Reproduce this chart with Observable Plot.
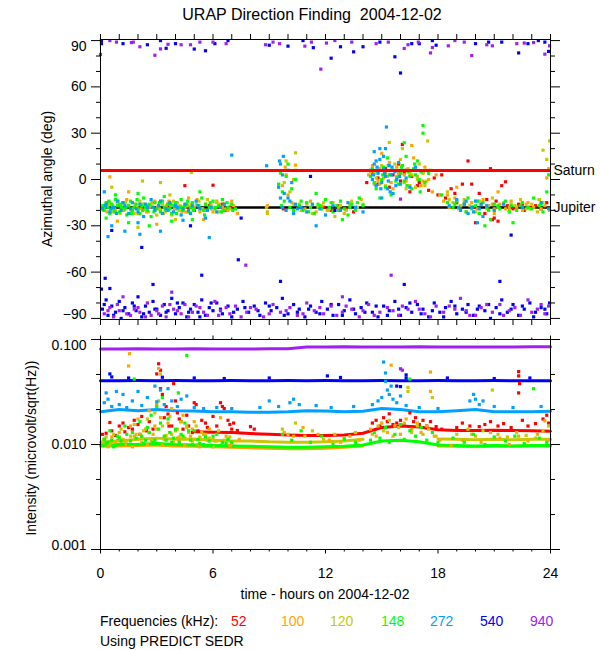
<!DOCTYPE html>
<html><head><meta charset="utf-8">
<script src="https://cdn.jsdelivr.net/npm/d3@7"></script>
<script src="https://cdn.jsdelivr.net/npm/@observablehq/plot@0.6"></script>
<style>
body{margin:0;background:#fff;font-family:"Liberation Sans",Arial,sans-serif;}
#wrap{position:relative;width:600px;height:650px;background:#fff;}
.t{position:absolute;white-space:nowrap;color:#000;font-size:14px;line-height:1;}
</style></head><body><div id="wrap"></div>
<script>
// ---------- categories ----------
const freqs = ["52","100","120","148","272","540","940"];
const freqColors = ["#ff0000","#ffa500","#c8c800","#00ff00","#00a0ff","#0000ff","#a020f0"];
const planetNames = ["Saturn","Jupiter"];
const planetAngles = [5.8,-18.1];
const planetColors = ["#ff0000","#000000"];

// ---------- tick labels ----------
const xMajor = [0,6,12,18,24];
const xMinor = [1,2,3,4,5,7,8,9,10,11,13,14,15,16,17,19,20,21,22,23];
const azMajor = [-90,-60,-30,0,30,60,90];
const azMinor = [-80,-70,-50,-40,-20,-10,10,20,40,50,70,80];
const inMajor = [0.001,0.01,0.1];
const inMinorExp = [-1.333,-1.667,-2.333,-2.667];

// ---------- azimuth [hour, deg] ----------
const az52 = [[0.4,-15],[1.0,-17],[2.3,-19],[3.6,-16],[4.5,-4],[4.6,-18],[5.0,-20],[5.8,-17],[6.0,-3.7],[6.3,-18],[6.5,-16],[6.7,-20],[6.9,-18],[9.75,-19],[11.9,-18],[12.3,-20],[12.7,-17],[13.1,-19],[13.5,-21],[14.2,-2],[14.5,4],[14.8,1],[14.8,-3],[15.2,7],[15.6,3],[15.9,10],[16.0,-1],[16.1,22.7],[16.3,6],[16.5,-8],[16.6,2],[16.9,-4],[17.2,5],[17.5,-7],[17.8,1],[18.0,-10],[18.2,3],[18.4,-12],[18.7,-6],[19.0,-15],[19.3,-3],[19.6,12],[19.9,-18],[20.0,-28],[20.2,-9],[20.5,-22],[20.8,7],[20.9,-26],[21.0,-25],[21.1,-14],[21.2,-27],[21.4,-4],[21.6,-1.5],[21.7,-17],[22.0,-19],[22.3,-16],[22.6,-20],[22.9,-18],[23.2,-17],[23.5,-19],[23.8,-15],[15.4,-5],[16.2,4],[17.0,-2],[18.9,-9],[19.8,-3],[20.6,-13],[22.5,-16]];
const az100 = [[0.2,-18],[0.5,-15],[0.5,1.7],[0.8,-20],[0.9,-27],[1.1,-17],[1.4,-13],[1.5,-8],[1.7,-19],[2.0,-22],[2.3,-16],[2.6,-18],[2.9,-14],[3.0,-29],[3.2,-20],[3.5,-17],[3.8,-23],[4.1,-15],[4.4,-19],[4.7,-12],[5.0,-18],[5.3,-21],[5.5,-26],[5.6,-16],[5.9,-19],[6.2,-14],[6.5,-18],[6.8,-20],[7.1,-17],[7.3,-22],[8.9,-17],[8.9,-21],[9.7,-4],[9.85,8],[9.9,3],[10.0,-10],[10.2,-15],[10.3,0],[10.4,9.3],[10.6,-16],[10.9,-19],[11.2,-14],[11.5,-21],[11.8,-17],[12.1,-20],[12.4,-15],[12.7,-18],[13.0,-22],[13.3,-16],[13.6,-19],[13.9,-13],[14.3,3],[14.6,-3],[14.9,7],[15.0,17],[15.1,1],[15.4,11],[15.6,-6],[15.9,4],[16.1,9],[16.3,-1],[16.5,5],[16.6,22],[16.7,14],[16.9,2],[17.1,-4],[17.3,8],[17.5,0],[17.7,-8],[17.9,3],[18.1,-10],[18.3,-14],[18.6,-18],[18.9,-12],[19.0,-5],[19.2,-17],[19.5,-21],[19.8,-15],[20.1,-19],[20.4,-13],[20.7,-17],[21.0,-22],[21.2,-8],[21.3,-16],[21.6,-19],[21.9,-14],[22.2,-18],[22.5,-20],[22.8,-15],[23.1,-18],[23.4,-13],[23.7,-17],[23.8,1],[23.9,7],[23.95,-20],
[0.35,-21],[0.65,-17],[0.95,-14],[1.25,-20],[1.85,-16],[2.15,-19],[2.45,-21],[2.75,-15],[3.05,-18],[3.35,-22],[3.65,-14],[3.95,-19],[4.25,-17],[4.55,-21],[4.85,-16],[5.15,-13],[5.45,-19],[6.0,-21],[6.35,-16],[6.65,-19],[7.0,-14],[14.5,9],[14.8,-1],[15.2,4],[15.5,-2],[15.8,8],[16.2,3],[16.5,-4],[16.8,6],[17.2,-1],[18.5,-10],[19.4,-15],[20.2,-22],[20.9,-16],[21.8,-18],[22.7,-16],[23.5,-19]];
const az120 = [[0.3,-17],[0.6,-21],[0.6,-5],[0.9,-15],[1.2,-19],[1.5,-17],[1.8,-22],[2.0,-31],[2.1,-14],[2.24,-1],[2.4,-19],[2.7,-17],[3.0,-23],[3.2,-2],[3.3,-16],[3.6,-19],[3.7,-10],[3.9,-14],[4.0,-26],[4.2,-20],[4.5,-18],[4.8,-22],[4.85,4.6],[5.1,-16],[5.4,-19],[5.7,-13],[6.0,-18],[6.3,-21],[6.6,-16],[6.9,-19],[8.85,-18],[8.9,-22],[9.6,4],[9.8,-2],[9.9,12],[10.1,-8],[10.3,-16],[10.4,6],[10.4,17.3],[10.7,-20],[11.0,-16],[11.3,-22],[11.6,-18],[11.9,-15],[12.2,-19],[12.5,-24],[12.8,-17],[13.1,-20],[13.4,-14],[13.7,-18],[14.0,-16],[14.4,5],[14.7,1],[15.0,9],[15.2,-4],[15.4,24],[15.5,6],[15.8,2],[16.0,13],[16.1,20],[16.2,-2],[16.4,7],[16.6,3],[16.8,-5],[17.0,10],[17.2,4],[17.4,-1],[17.45,25],[17.6,6],[18.5,-8],[18.8,-15],[19.1,-19],[19.4,-13],[19.7,-17],[20.0,-21],[20.3,-16],[20.6,-19],[20.9,-12],[21.2,-18],[21.5,-15],[21.8,-20],[22.1,-17],[22.4,-13],[22.7,-19],[23.0,-16],[23.3,-21],[23.6,19],[23.6,-15],[23.8,13],[23.95,25],
[0.15,-20],[0.45,-16],[0.75,-19],[1.05,-22],[1.35,-15],[1.65,-20],[1.95,-18],[2.25,-16],[2.55,-21],[2.85,-15],[3.15,-19],[3.45,-21],[3.75,-17],[4.05,-16],[4.35,-21],[4.65,-17],[4.95,-19],[5.25,-14],[5.55,-20],[5.9,-17],[6.2,-15],[6.5,-20],[14.6,4],[14.9,-3],[15.3,2],[15.7,10],[16.3,-6],[16.5,3],[16.9,0],[17.3,-4],[18.6,-13],[19.2,-17],[20.2,-14],[21.0,-19],[21.9,-16],[22.9,-19],[23.4,-13]];
const az148 = [[0.1,-17],[0.2,-20],[0.3,-15],[0.3,-25],[0.4,-18],[0.5,-22],[0.6,-16],[0.7,-19],[0.8,-13],[0.8,-10],[0.9,-17],[1.0,-21],[1.1,-18],[1.2,-15],[1.3,-19],[1.4,-23],[1.5,-17],[1.5,-28],[1.6,-14],[1.7,-20],[1.8,-18],[1.9,-16],[2.0,-19],[2.0,-9],[2.1,-22],[2.2,-17],[2.3,-12],[2.4,-18],[2.5,-20],[2.6,-16],[2.6,-30],[2.7,-24],[2.8,-18],[2.9,-15],[3.0,-19],[3.1,-17],[3.2,-21],[3.3,-14],[3.4,-18],[3.4,-11],[3.5,-20],[3.6,-16],[3.7,-19],[3.8,-22],[3.8,-27],[3.9,-17],[4.0,-15],[4.1,-19],[4.2,-18],[4.3,-13],[4.4,-20],[4.5,-17],[4.6,-16],[4.7,-21],[4.8,-18],[4.9,-15],[4.9,-26],[5.0,-19],[5.2,-17],[5.3,-8],[5.4,-12],[5.5,-20],[5.6,-16],[5.8,-18],[6.0,-14],[6.1,-19],[6.3,-17],[6.5,-13],[6.6,-20],[6.8,-18],[7.0,-16],[7.2,-19],[9.5,-3],[9.6,5],[9.65,-17],[9.7,-8],[9.8,-14],[9.9,2],[10.0,10],[10.1,-18],[10.2,-6],[10.3,-20],[10.4,0],[10.6,-17],[10.8,-20],[11.0,-15],[11.2,-18],[11.4,-22],[11.5,-9],[11.6,-16],[11.8,-19],[12.0,-13],[12.2,-18],[12.4,-21],[12.6,-17],[12.8,-14],[12.9,-26],[13.0,-19],[13.2,-23],[13.4,-16],[13.6,-20],[13.8,-12],[14.0,-17],[14.4,2],[14.6,-2],[14.8,5],[14.9,-12],[15.0,0],[15.1,8],[15.2,-5],[15.3,14],[15.4,3],[15.5,-10],[15.6,6],[15.8,1],[15.9,-3],[16.0,4],[16.1,9],[16.2,-1],[16.2,23.8],[16.3,15],[16.4,5],[16.5,2],[16.6,-6],[16.7,7],[16.8,3],[16.9,12],[17.0,0],[17.1,5],[17.2,35],[17.2,30],[17.3,-2],[17.5,4],[18.2,-10],[18.5,-15],[18.8,-18],[19.0,-14],[19.2,-20],[19.4,-16],[19.6,-12],[19.8,-19],[20.0,-17],[20.2,-22],[20.4,-15],[20.5,-30],[20.6,-18],[20.8,-26],[21.0,-16],[21.3,-19],[21.6,-14],[21.9,-17],[22.0,-28],[22.2,-20],[22.5,-15],[22.8,-18],[23.1,-12],[23.4,-17],[23.6,-21],[23.8,-8],[23.9,3],
[0.15,-19],[0.45,-14],[0.75,-21],[1.05,-16],[1.35,-18],[1.65,-22],[1.95,-13],[2.25,-20],[2.55,-17],[2.85,-21],[3.15,-15],[3.45,-19],[3.75,-16],[4.05,-22],[4.35,-18],[4.65,-14],[4.95,-20],[5.25,-17],[5.55,-23],[5.85,-15],[6.15,-18],[6.45,-21],[6.75,-15],[7.05,-20],[10.7,-14],[11.1,-21],[11.7,-17],[12.3,-15],[12.7,-20],[13.3,-18],[13.7,-15],[14.5,7],[14.7,-6],[15.05,3],[15.35,9],[15.75,-1],[16.05,8],[16.35,-4],[16.75,10],[17.05,-8],[18.9,-16],[19.5,-21],[20.1,-14],[20.7,-20],[21.2,-17],[21.8,-21],[22.4,-17],[23.0,-19],[23.5,-16]];
const az272 = [[0.1,-19],[0.2,-8],[0.3,-16],[0.4,-37],[0.5,-21],[0.6,-30],[0.7,-18],[0.9,-14],[1.1,-20],[1.3,-17],[1.3,-33.5],[1.5,-22],[1.7,-15],[1.9,-19],[2.0,-28],[2.1,-16],[2.1,-35.5],[2.3,-24],[2.5,-18],[2.7,-13],[2.9,-20],[3.1,-17],[3.2,-33.5],[3.3,-22],[3.5,-19],[3.7,-15],[3.9,-21],[4.1,-18],[4.3,-23],[4.4,-26.4],[4.5,-16],[4.7,-20],[4.9,-17],[5.1,-14],[5.3,-19],[5.6,-25],[5.8,-37.6],[5.9,-18],[6.2,-21],[6.6,-16],[7.0,15.8],[8.86,8.9],[9.5,-5],[9.55,12],[9.6,10],[9.6,-12],[9.7,3],[9.75,15],[9.8,-9],[9.9,-20],[10.0,6],[10.1,-14],[10.2,-2],[10.3,-22],[10.4,-16],[10.5,-19],[10.7,-18],[11.0,-21],[11.3,-16],[11.5,-30],[11.7,-19],[12.0,-23],[12.4,-17],[12.8,-20],[13.2,-15],[13.6,-18],[14.0,-21],[14.4,6],[14.5,0],[14.6,10],[14.6,18],[14.7,-4],[14.8,4],[14.9,13],[14.9,20],[15.0,-2],[15.0,-12],[15.1,7],[15.2,2],[15.2,20],[15.25,34],[15.3,-6],[15.4,9],[15.5,3],[15.6,-9],[15.7,5],[15.8,0],[15.9,11],[16.0,-3],[16.1,6],[16.3,1],[16.5,-5],[16.8,8],[18.6,-17],[19.0,-13],[19.2,-20],[19.4,-16],[19.6,-22],[19.8,-18],[20.0,-14],[20.1,-28],[20.2,-19],[20.4,-24],[20.6,-17],[21.0,-20],[21.5,-16],[22.5,-18],[23.5,-15],[23.9,-19],
[0.25,-17],[0.55,-19],[0.85,-22],[1.2,-15],[1.6,-19],[2.0,-21],[2.4,-16],[2.8,-18],[3.2,-14],[3.6,-20],[4.0,-17],[4.4,-19],[4.8,-22],[5.2,-17],[5.7,-20],[6.4,-18],[9.7,-18],[10.0,-12],[14.55,3],[14.75,8],[14.95,-6],[15.15,4],[15.35,-1],[15.55,8],[15.75,-4],[15.95,2],[14.7,12],[15.1,15],[15.45,-8],[19.1,-18],[19.5,-14],[19.9,-21],[20.3,-16]];
const az540 = [[0.05,90],[0.05,88],[1.2,88],[2.5,87.3],[3.2,90],[3.5,85],[4.0,88],[5.0,84.5],[5.6,83.4],[6.1,88],[6.8,90],[9.0,87],[10.0,86.4],[10.8,90],[11.35,85.4],[12.3,78.6],[12.8,86],[13.5,82.7],[14.0,86],[14.9,89],[15.7,79.5],[16.0,69],[16.6,88],[17.0,88],[17.7,90],[17.9,87],[20.0,88],[20.7,89],[21.4,89],[22.3,82],[22.8,88],[23.35,90],[23.7,89],[23.9,83],
[0.6,-33],[2.2,-44],[4.8,-30],[7.5,-25],[11.2,2],[12.5,-20],[21.9,-36],
[0.05,-71],[0.25,-64],[0.5,-70.6],[2.8,-68],[5.4,-62],[7.35,-52],[9.6,-66],[16.2,-68],[21.3,-66],
[0.1,-84],[0.3,-78],[0.4,-88],[0.6,-82],[0.8,-86],[1.0,-79],[1.1,-90],[1.3,-83],[1.5,-87],[1.7,-80],[1.9,-85],[2.0,-76],[2.2,-89],[2.4,-82],[2.6,-86],[2.8,-79],[3.0,-84],[3.2,-88],[3.4,-81],[3.6,-85],[3.8,-77],[4.0,-87],[4.2,-83],[4.4,-80],[4.6,-89],[4.8,-84],[5.0,-81],[5.2,-86],[5.4,-78],[5.6,-88],[5.8,-83],[6.0,-85],[6.2,-80],[6.5,-87],[6.8,-82],[7.0,-89],[7.3,-84],[7.6,-79],[7.9,-86],[8.2,-82],[8.5,-88],[8.8,-80],[9.1,-85],[9.4,-83],[9.7,-77],[10.0,-87],[10.3,-81],[10.6,-84],[10.9,-89],[11.2,-82],[11.5,-86],[11.8,-79],[12.1,-84],[12.4,-88],[12.7,-81],[13.0,-85],[13.3,-78],[13.6,-87],[13.9,-83],[14.2,-80],[14.5,-86],[14.8,-89],[15.1,-82],[15.4,-85],[15.7,-79],[16.0,-88],[16.3,-83],[16.6,-86],[16.9,-81],[17.2,-84],[17.5,-89],[17.8,-80],[18.1,-86],[18.4,-83],[18.7,-79],[19.0,-87],[19.3,-84],[19.6,-81],[19.9,-88],[20.2,-82],[20.5,-85],[20.8,-90],[21.1,-83],[21.4,-78],[21.7,-86],[22.0,-81],[22.3,-88],[22.6,-84],[22.9,-80],[23.2,-86],[23.5,-83],[23.8,-87],[23.95,-80],
[0.2,-81],[0.7,-88],[1.2,-85],[1.8,-82],[2.3,-87],[2.9,-84],[3.5,-86],[4.1,-80],[4.7,-86],[5.3,-89],[5.9,-80],[6.4,-84],[7.1,-86],[7.7,-83],[8.4,-85],[9.0,-82],[9.8,-88],[10.5,-86],[11.1,-84],[11.7,-87],[12.3,-81],[12.9,-88],[13.5,-84],[14.1,-86],[14.7,-82],[15.3,-88],[15.9,-84],[16.5,-80],[17.1,-87],[17.7,-85],[18.3,-89],[18.9,-82],[19.5,-86],[20.1,-84],[20.7,-81],[21.3,-87],[21.9,-84],[22.5,-82],[23.1,-89],[23.7,-84]];
const az940 = [[0.0,81],[0.5,90],[0.85,89],[1.65,88.7],[1.75,89],[2.1,86],[2.9,80.5],[3.2,84.6],[3.6,87.6],[4.3,87.3],[4.8,87.3],[5.3,89],[6.0,89],[6.7,88],[8.8,87.3],[9.2,89],[9.55,88],[10.9,86.4],[11.25,89],[11.75,71.5],[12.05,88.4],[12.5,90],[13.4,89],[14.7,88],[15.35,89],[16.2,84.9],[16.4,87.3],[16.95,89],[17.6,82],[17.7,85.5],[18.55,86.6],[18.9,90],[19.4,89],[19.8,80.3],[20.6,87.3],[20.9,86.6],[22.2,88],[22.6,88.4],[23.1,88.7],[23.7,81.2],[23.95,86.6],
[16.0,-12.7],[7.75,-55.5],[15.5,-62],[3.8,-73],[12.9,-76],[1.2,-76],
[0.2,-87],[0.5,-83],[0.7,-89],[1.0,-85],[1.6,-88],[1.8,-84],[2.1,-86],[2.5,-80],[2.7,-88],[3.0,-85],[3.3,-82],[3.5,-89],[3.9,-84],[4.3,-87],[4.5,-81],[4.9,-86],[5.3,-83],[5.7,-88],[6.1,-79],[6.4,-85],[6.9,-87],[7.2,-82],[7.8,-86],[8.3,-84],[8.7,-89],[9.2,-81],[9.6,-86],[10.1,-83],[10.5,-88],[11.0,-80],[11.4,-85],[11.9,-87],[12.3,-82],[12.9,-86],[13.4,-84],[13.8,-89],[14.3,-81],[14.9,-86],[15.3,-83],[15.9,-88],[16.4,-84],[16.8,-79],[17.3,-87],[17.9,-82],[18.3,-86],[18.9,-84],[19.2,-77],[19.7,-88],[20.3,-83],[20.9,-86],[21.3,-81],[21.8,-85],[22.4,-88],[22.8,-78],[23.3,-84],[23.7,-87],[23.9,-82],
[0.4,-85],[0.9,-81],[1.4,-87],[2.0,-83],[2.4,-89],[3.1,-87],[3.7,-81],[4.1,-85],[4.7,-89],[5.1,-82],[5.5,-86],[6.3,-88],[6.7,-83],[7.5,-89],[8.0,-83],[9.0,-87],[9.9,-85],[10.8,-87],[11.7,-83],[12.6,-88],[13.1,-82],[14.0,-85],[14.6,-88],[15.6,-85],[16.1,-82],[17.0,-84],[17.6,-89],[18.6,-82],[19.5,-85],[20.0,-88],[20.6,-81],[21.5,-88],[22.1,-83],[23.0,-86],[23.5,-81]];

// ---------- intensity baselines (hourly) ----------
const hours = [0,1,2,3,4,5,6,7,8,9,10,11,12,13,14,15,16,17,18,19,20,21,22,23,24];
const base52 = [null,null,null,null,null,0.0132,0.0131,0.0130,0.0127,0.0125,0.0123,0.0122,0.0122,0.0123,0.0128,0.0145,0.0150,0.0147,0.0138,0.0136,0.0136,0.0137,0.0136,0.0135,0.0134];
const base100 = [0.0096,0.0097,0.0098,0.0099,0.0097,0.0096,0.0095,0.0094,0.0093,0.0092,0.0091,0.0091,0.0092,0.0094,0.0097,null,null,null,0.0097,0.0096,0.0095,0.0096,0.0096,0.0097,0.0097];
const base120 = [0.0105,0.0108,0.0112,0.0115,0.0112,0.0112,0.0110,0.0108,0.0108,0.0106,0.0105,0.0105,0.0106,0.0108,0.0112,null,null,null,0.0113,0.0112,0.0111,0.0112,0.0111,0.0112,0.0112];
const base148 = [0.0098,0.0100,0.0100,0.0102,0.0100,0.0099,0.0098,0.0097,0.0096,0.0095,0.0094,0.0094,0.0095,0.0096,0.0099,0.0108,0.0110,0.0106,0.0099,0.0098,0.0097,0.0098,0.0097,0.0098,0.0098];
const base272 = [0.0205,0.0215,0.0210,0.0215,0.0210,0.0208,0.0205,0.0205,0.0203,0.0203,0.0205,0.0210,0.0208,0.0205,0.0207,0.0220,0.0215,0.0205,0.0205,0.0210,0.0215,0.0205,0.0205,0.0205,0.0207];
const base540 = [0.0405,0.0405,0.0406,0.0405,0.0406,0.0405,0.0405,0.0406,0.0405,0.0405,0.0406,0.0405,0.0406,0.0405,0.0405,0.0406,0.0405,0.0405,0.0406,0.0405,0.0405,0.0406,0.0405,0.0405,0.0405];
const base940 = [0.0810,0.0810,0.0815,0.0810,0.0810,0.0815,0.0810,0.0810,0.0810,0.0815,0.0815,0.0850,0.0850,0.0855,0.0850,0.0850,0.0850,0.0855,0.0850,0.0850,0.0850,0.0850,0.0850,0.0855,0.0855];

// ---------- intensity scatter [hour, microvolt/sqrt(Hz)] ----------
const in52 = [[0.3,0.0128],[0.5,0.0162],[0.8,0.0122],[1.0,0.0150],[1.3,0.0132],[1.5,0.0145],[1.8,0.0170],[2.0,0.0155],[2.2,0.0185],[2.45,0.0135],[2.8,0.0140],[3.0,0.0470],[3.1,0.0587],[3.2,0.0510],[3.2,0.0340],[3.3,0.0300],[3.5,0.0230],[3.6,0.0195],[3.65,0.0150],[3.9,0.0380],[4.0,0.0260],[4.1,0.0200],[4.3,0.0165],[4.4,0.0140],[4.6,0.0190],[4.9,0.0130],[5.0,0.0250],[5.1,0.0240],[5.4,0.0170],[5.7,0.0145],[6.0,0.0185],[6.4,0.0250],[6.5,0.0230],[6.6,0.0220],[6.8,0.0170],[7.0,0.0140],[7.1,0.0160],[7.3,0.0136],[8.0,0.0148],[8.2,0.0140],[14.5,0.0160],[14.7,0.0170],[14.9,0.0150],[15.1,0.0180],[15.3,0.0165],[15.4,0.0196],[15.6,0.0155],[15.8,0.0160],[16.0,0.0170],[16.2,0.0155],[16.5,0.0200],[16.7,0.0165],[16.8,0.0180],[17.0,0.0155],[17.2,0.0170],[17.4,0.0150],[17.6,0.0165],[17.9,0.0148],[18.2,0.0140],[19.0,0.0145],[19.3,0.0160],[19.7,0.0150],[20.2,0.0148],[20.5,0.0155],[20.8,0.0165],[21.2,0.0150],[21.5,0.0158],[21.9,0.0145],[22.3,0.0495],[22.3,0.0450],[22.35,0.0380],[22.3,0.0310],[22.5,0.0170],[22.8,0.0150],[23.2,0.0158],[23.6,0.0175],[23.8,0.0190],[23.9,0.0160],
[0.1,0.0125],[0.6,0.0135],[1.2,0.0160],[1.7,0.0140],[2.1,0.0125],[2.6,0.0165],[3.4,0.0180],[3.8,0.0150],[4.2,0.0175],[4.7,0.0150],[5.2,0.0135],[5.6,0.0160],[6.2,0.0150],[6.9,0.0155]];
const in100 = [[0.1,0.0100],[0.2,0.0110],[0.4,0.0095],[0.6,0.0118],[0.8,0.0102],[1.0,0.0130],[1.2,0.0112],[1.4,0.0098],[1.5,0.0560],[1.55,0.0733],[1.6,0.0150],[1.8,0.0120],[2.0,0.0175],[2.2,0.0105],[2.4,0.0140],[2.6,0.0210],[2.8,0.0125],[3.0,0.0240],[3.1,0.0530],[3.2,0.0180],[3.4,0.0115],[3.6,0.0160],[3.8,0.0220],[4.0,0.0135],[4.2,0.0108],[4.4,0.0190],[4.6,0.0150],[4.8,0.0120],[5.0,0.0165],[5.2,0.0100],[5.5,0.0125],[5.8,0.0140],[6.1,0.0108],[6.4,0.0180],[6.7,0.0120],[7.0,0.0100],[7.4,0.0112],[9.8,0.0130],[10.3,0.0120],[10.8,0.0145],[11.6,0.0125],[12.2,0.0110],[12.8,0.0105],[13.3,0.0120],[13.8,0.0110],[14.4,0.0140],[14.7,0.0120],[15.0,0.0160],[15.3,0.0130],[15.5,0.0570],[15.7,0.0150],[16.0,0.0125],[16.3,0.0175],[16.6,0.0140],[16.9,0.0160],[17.1,0.0130],[17.4,0.0150],[17.6,0.0490],[17.6,0.0320],[17.8,0.0120],[18.1,0.0110],[18.7,0.0098],[19.3,0.0110],[19.8,0.0125],[20.3,0.0105],[20.8,0.0130],[21.3,0.0115],[21.8,0.0100],[22.3,0.0120],[22.8,0.0108],[23.3,0.0125],[23.7,0.0168],[23.9,0.0110],
[0.3,0.0102],[0.7,0.0096],[1.1,0.0108],[1.7,0.0095],[2.1,0.0125],[2.5,0.0100],[2.9,0.0150],[3.3,0.0098],[3.7,0.0130],[4.1,0.0115],[4.5,0.0100],[4.9,0.0140],[5.3,0.0095],[5.7,0.0110],[6.0,0.0095],[6.5,0.0105],[6.9,0.0098]];
const in120 = [[0.1,0.0105],[0.3,0.0118],[0.5,0.0100],[0.7,0.0125],[0.9,0.0110],[1.1,0.0140],[1.3,0.0102],[1.6,0.0120],[1.8,0.0155],[2.0,0.0112],[2.3,0.0135],[2.5,0.0175],[2.7,0.0108],[2.9,0.0200],[3.1,0.0260],[3.2,0.0470],[3.3,0.0150],[3.5,0.0122],[3.7,0.0185],[3.9,0.0105],[4.1,0.0140],[4.3,0.0165],[4.5,0.0115],[4.7,0.0130],[4.9,0.0108],[5.1,0.0150],[5.3,0.0118],[5.6,0.0125],[6.0,0.0112],[6.3,0.0135],[6.6,0.0110],[6.9,0.0118],[9.7,0.0140],[10.0,0.0125],[10.4,0.0160],[10.9,0.0120],[11.3,0.0135],[11.9,0.0112],[12.5,0.0125],[13.0,0.0115],[13.6,0.0130],[14.5,0.0125],[14.8,0.0150],[15.1,0.0135],[15.4,0.0170],[15.6,0.0120],[15.9,0.0145],[16.2,0.0160],[16.4,0.0350],[16.4,0.0320],[16.6,0.0130],[16.9,0.0150],[17.2,0.0125],[17.5,0.0140],[17.7,0.0280],[17.9,0.0120],[19.0,0.0125],[19.6,0.0140],[20.0,0.0120],[20.4,0.0135],[20.9,0.0330],[21.2,0.0125],[21.7,0.0118],[22.2,0.0130],[22.7,0.0122],[23.2,0.0115],[23.6,0.0135],[23.9,0.0150],
[0.2,0.0112],[0.6,0.0105],[1.0,0.0118],[1.4,0.0108],[1.9,0.0125],[2.2,0.0115],[2.6,0.0130],[3.0,0.0140],[3.4,0.0112],[3.8,0.0125],[4.2,0.0118],[4.6,0.0145],[5.0,0.0112],[5.4,0.0130],[5.8,0.0115],[6.2,0.0108],[6.8,0.0112]];
const in148 = [[0.1,0.0098],[0.2,0.0112],[0.4,0.0105],[0.5,0.0135],[0.7,0.0095],[0.9,0.0120],[1.1,0.0108],[1.3,0.0150],[1.5,0.0100],[1.7,0.0130],[1.8,0.0420],[1.9,0.0115],[2.1,0.0165],[2.3,0.0102],[2.5,0.0145],[2.7,0.0190],[2.9,0.0110],[3.0,0.0230],[3.2,0.0160],[3.3,0.0280],[3.4,0.0120],[3.6,0.0175],[3.8,0.0105],[4.0,0.0140],[4.15,0.0310],[4.3,0.0125],[4.5,0.0160],[4.6,0.0706],[4.8,0.0110],[5.0,0.0135],[5.3,0.0102],[5.6,0.0118],[5.9,0.0098],[6.2,0.0125],[6.5,0.0105],[6.8,0.0112],[7.1,0.0096],[9.7,0.0125],[10.2,0.0110],[10.7,0.0135],[11.2,0.0105],[11.8,0.0120],[12.4,0.0100],[13.0,0.0112],[13.6,0.0105],[14.4,0.0110],[14.6,0.0130],[14.9,0.0115],[15.2,0.0145],[15.4,0.0105],[15.7,0.0125],[16.0,0.0155],[16.2,0.0112],[16.5,0.0420],[16.5,0.0135],[16.8,0.0120],[17.1,0.0145],[17.4,0.0110],[17.7,0.0130],[18.0,0.0105],[18.8,0.0115],[19.4,0.0105],[19.9,0.0125],[20.5,0.0100],[21.0,0.0118],[21.6,0.0108],[22.1,0.0120],[22.6,0.0102],[23.1,0.0340],[23.4,0.0115],[23.8,0.0105],
[0.3,0.0103],[0.6,0.0110],[0.8,0.0098],[1.0,0.0115],[1.2,0.0100],[1.4,0.0125],[1.6,0.0108],[2.0,0.0100],[2.2,0.0120],[2.4,0.0110],[2.6,0.0130],[2.8,0.0105],[3.1,0.0140],[3.5,0.0110],[3.7,0.0130],[3.9,0.0115],[4.2,0.0105],[4.4,0.0120],[4.7,0.0135],[4.9,0.0100],[5.2,0.0112],[5.5,0.0100],[5.8,0.0108],[6.0,0.0120],[6.4,0.0098],[6.7,0.0102],[7.0,0.0105]];
const in272 = [[0.2,0.0250],[0.3,0.0310],[0.4,0.0270],[0.6,0.0230],[0.85,0.0320],[1.0,0.0240],[1.2,0.0300],[1.4,0.0225],[1.7,0.0260],[2.0,0.0320],[2.2,0.0235],[2.5,0.0280],[2.9,0.0360],[3.0,0.0255],[3.2,0.0330],[3.4,0.0240],[3.6,0.0340],[3.8,0.0260],[4.1,0.0230],[4.3,0.0270],[4.6,0.0290],[5.0,0.0225],[5.5,0.0220],[6.2,0.0225],[7.0,0.0220],[8.5,0.0225],[9.0,0.0260],[9.5,0.0230],[10.1,0.0250],[10.3,0.0270],[10.6,0.0240],[11.5,0.0235],[12.3,0.0225],[13.5,0.0230],[14.5,0.0240],[14.8,0.0260],[15.0,0.0280],[15.1,0.0610],[15.2,0.0480],[15.2,0.0400],[15.3,0.0330],[15.4,0.0300],[15.5,0.0360],[15.6,0.0270],[15.8,0.0250],[16.0,0.0290],[16.3,0.0235],[17.0,0.0225],[18.0,0.0220],[19.7,0.0260],[19.9,0.0300],[20.0,0.0270],[20.2,0.0240],[20.4,0.0260],[21.0,0.0230],[22.0,0.0225],[23.5,0.0230]];
const in540 = [[0.5,0.0470],[0.6,0.0440],[1.5,0.0430],[3.3,0.0437],[5.0,0.0430],[6.6,0.0425],[9.0,0.0430],[12.1,0.0450],[12.8,0.0435],[15.8,0.0360],[16.0,0.0356],[16.3,0.0460],[16.3,0.0430],[18.5,0.0430],[21.0,0.0425],[22.9,0.0430]];
const in940 = [[16.0,0.0526],[16.1,0.0510]];

// ---------- build tables ----------
const azData = [az52,az100,az120,az148,az272,az540,az940];
const inData = [in52,in100,in120,in148,in272,in540,in940];
const baseData = [base52,base100,base120,base148,base272,base540,base940];
const azRows = azData.flatMap((arr,i)=>arr.map(([t,a])=>({t,a,f:freqs[i]})));
const inRows = inData.flatMap((arr,i)=>arr.map(([t,v])=>({t,v,f:freqs[i]})));
const baseRows = baseData.flatMap((arr,i)=>arr.map((v,j)=>({t:hours[j],v,f:freqs[i]})));
const planets = planetNames.map((name,i)=>({name,a:planetAngles[i],c:planetColors[i]}));
const inMinor = inMinorExp.map(e=>Math.pow(10,e));

const font = "'Liberation Sans', Arial, sans-serif";
const blank = () => "";
const colorScale = {domain:freqs, range:freqColors};

const topPlot = Plot.plot({
  width:600, height:330, marginTop:39, marginBottom:11, marginLeft:100, marginRight:50,
  style:{fontSize:"14px", fontFamily:font, color:"#000", background:"transparent", overflow:"visible"},
  x:{domain:[0,24]},
  y:{domain:[-90.7,90.7]},
  color:colorScale,
  marks:[
    Plot.ruleY(planets.slice(1),{y:"a", stroke:"c", strokeWidth:2.5}),
    Plot.dot(azRows,{x:"t", y:"a", fill:"f", symbol:"square", r:1.8}),
    Plot.ruleY(planets.slice(0,1),{y:"a", stroke:"c", strokeWidth:3}),
    Plot.text(planets,{y:"a", text:"name", frameAnchor:"right", dx:3, textAnchor:"start", fill:"#000", fontSize:14}),
    Plot.frame({stroke:"#000"}),
    Plot.axisY({anchor:"left", ticks:azMajor, tickSize:9, tickPadding:5, label:null, tickFormat:d=>Math.abs(d)===90?"":String(d)}),
    Plot.axisY({anchor:"left", ticks:[90], tickSize:0, tickPadding:14, dy:6, label:null}),
    Plot.axisY({anchor:"left", ticks:[-90], tickSize:0, tickPadding:14, dy:-4, label:null}),
    Plot.axisY({anchor:"left", ticks:azMinor, tickSize:4, label:null, tickFormat:blank}),
    Plot.axisY({anchor:"right", ticks:azMajor, tickSize:9, label:null, tickFormat:blank}),
    Plot.axisY({anchor:"right", ticks:azMinor, tickSize:4, label:null, tickFormat:blank}),
    Plot.axisX({anchor:"top", ticks:xMajor.concat(xMinor), tickSize:6, label:null, tickFormat:blank}),
    Plot.axisX({anchor:"bottom", ticks:xMajor.concat(xMinor), tickSize:6, label:null, tickFormat:blank})
  ]
});

const botPlot = Plot.plot({
  width:600, height:320, marginTop:9, marginBottom:101, marginLeft:100, marginRight:50,
  style:{fontSize:"14px", fontFamily:font, color:"#000", background:"transparent", overflow:"visible"},
  x:{domain:[0,24]},
  y:{type:"log", domain:[0.001,0.1]},
  color:colorScale,
  marks:[
    Plot.line(baseRows,{x:"t", y:"v", z:"f", stroke:"f", strokeWidth:3}),
    Plot.dot(inRows,{x:"t", y:"v", fill:"f", symbol:"square", r:1.8}),
    Plot.frame({stroke:"#000"}),
    Plot.axisY({anchor:"left", ticks:[0.01], tickSize:9, tickPadding:5, label:null, tickFormat:d3.format(".3f")}),
    Plot.axisY({anchor:"left", ticks:[0.1,0.001], tickSize:9, label:null, tickFormat:blank}),
    Plot.axisY({anchor:"left", ticks:[0.1], tickSize:0, tickPadding:14, dy:6, label:null, tickFormat:d3.format(".3f")}),
    Plot.axisY({anchor:"left", ticks:[0.001], tickSize:0, tickPadding:14, dy:-4, label:null, tickFormat:d3.format(".3f")}),
    Plot.axisY({anchor:"left", ticks:inMinor, tickSize:4, label:null, tickFormat:blank}),
    Plot.axisY({anchor:"right", ticks:inMajor, tickSize:9, label:null, tickFormat:blank}),
    Plot.axisY({anchor:"right", ticks:inMinor, tickSize:4, label:null, tickFormat:blank}),
    Plot.axisX({anchor:"top", ticks:xMajor, tickSize:4.5, label:null, tickFormat:blank}),
    Plot.axisX({anchor:"top", ticks:xMinor, tickSize:2.5, label:null, tickFormat:blank}),
    Plot.axisX({anchor:"bottom", ticks:xMajor, tickSize:4.5, tickPadding:14, label:null, tickFormat:d3.format("d")}),
    Plot.axisX({anchor:"bottom", ticks:xMinor, tickSize:2.5, label:null, tickFormat:blank})
  ]
});

const wrap = document.getElementById("wrap");
topPlot.style.position = "absolute"; topPlot.style.left = "0px"; topPlot.style.top = "0px";
botPlot.style.position = "absolute"; botPlot.style.left = "0px"; botPlot.style.top = "330px";
wrap.appendChild(topPlot);
wrap.appendChild(botPlot);

function addText(txt, css){
  const d = document.createElement("div");
  d.className = "t"; d.textContent = txt;
  Object.assign(d.style, css);
  wrap.appendChild(d); return d;
}
addText("URAP Direction Finding\u00a0\u00a02004-12-02",{left:"312px", top:"7px", fontSize:"16px", transform:"translateX(-50%)"});
addText("Azimuthal angle (deg)",{left:"47px", top:"179px", transform:"translate(-50%,-50%) rotate(-90deg)"});
addText("Intensity (microvolt/sqrt(Hz))",{left:"31px", top:"448px", transform:"translate(-50%,-50%) rotate(-90deg)"});
addText("time - hours on 2004-12-02",{left:"325px", top:"587px", transform:"translateX(-50%)"});
addText("Frequencies (kHz):",{left:"100px", top:"614px"});
const legendX = [231,281,330,381,430,480,530];
freqs.forEach((f,i)=>addText(f,{left:legendX[i]+"px", top:"614px", color:freqColors[i]}));
addText("Using PREDICT SEDR",{left:"100px", top:"634px"});
</script>
</body></html>
